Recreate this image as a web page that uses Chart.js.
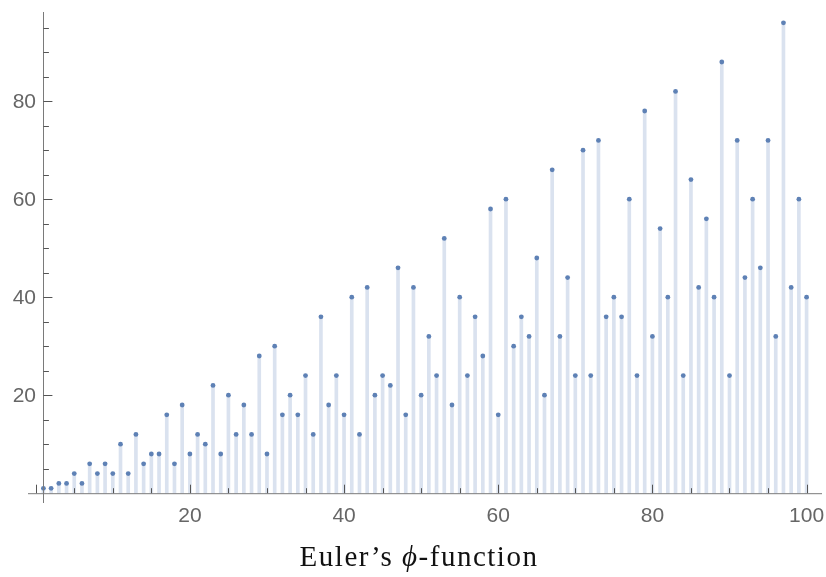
<!DOCTYPE html>
<html>
<head>
<meta charset="utf-8">
<script src="https://cdn.jsdelivr.net/npm/chart.js@4/dist/chart.umd.min.js"></script>
<style>
  body { margin: 0; background: #fff; }
</style>
</head>
<body>
<canvas id="graficoPhi" width="826" height="577"></canvas>
<script>
// n = 1..100 and phi(n)
var valoresN = [];
for (var i = 1; i <= 100; i++) valoresN.push(i);
var valoresPhi = [
  1, 1, 2, 2, 4, 2, 6, 4, 6, 4,
  10, 4, 12, 6, 8, 8, 16, 6, 18, 8,
  12, 10, 22, 8, 20, 12, 18, 12, 28, 8,
  30, 16, 20, 16, 24, 12, 36, 18, 24, 16,
  40, 12, 42, 20, 24, 22, 46, 16, 42, 20,
  32, 24, 52, 18, 40, 24, 36, 28, 58, 16,
  60, 30, 36, 32, 48, 20, 66, 32, 44, 24,
  70, 24, 72, 36, 40, 36, 60, 24, 78, 32,
  54, 40, 82, 24, 64, 42, 56, 40, 88, 24,
  72, 44, 60, 46, 72, 32, 96, 42, 60, 40
];
var ticksX = [20, 40, 60, 80, 100];
var ticksY = [20, 40, 60, 80];
var titulo = ["Euler\u2019s ", "\u03D5", "-function"];

var pontos = valoresN.map(function (n, i) {
  return { x: n, y: valoresPhi[i] };
});

// axes drawn Mathematica style: crossing at (1, 0), ticks pointing inward
var eixosPlugin = {
  id: "eixos",
  afterDraw: function (chart) {
    var ctx = chart.ctx;
    var sx = chart.scales.x;
    var sy = chart.scales.y;
    var area = chart.chartArea;
    var x0 = sx.getPixelForValue(1);
    var y0 = sy.getPixelForValue(0);

    ctx.save();
    ctx.strokeStyle = "#7a7a7a";
    ctx.lineWidth = 1;
    ctx.beginPath();
    ctx.moveTo(area.left, y0 + 0.5);
    ctx.lineTo(area.right, y0 + 0.5);
    ctx.moveTo(Math.round(x0) + 0.5, area.top);
    ctx.lineTo(Math.round(x0) + 0.5, area.bottom);
    ctx.stroke();

    ctx.strokeStyle = "#555";
    ctx.beginPath();
    for (var v = 0; v <= 100; v += 5) {
      var px = Math.round(sx.getPixelForValue(v)) + 0.5;
      var len = v % 20 === 0 ? 8.5 : 5;
      ctx.moveTo(px, y0);
      ctx.lineTo(px, y0 - len);
    }
    for (var w = 5; w <= 95; w += 5) {
      var py = Math.round(sy.getPixelForValue(w)) + 0.5;
      var lenY = w % 20 === 0 ? 9 : 5.5;
      ctx.moveTo(x0, py);
      ctx.lineTo(x0 + lenY, py);
    }
    ctx.stroke();

    ctx.fillStyle = "#666";
    ctx.font = "21px 'Liberation Sans', Arial, sans-serif";
    ctx.textAlign = "center";
    ctx.textBaseline = "middle";
    ticksX.forEach(function (t) {
      ctx.fillText(String(t), sx.getPixelForValue(t), 516);
    });
    ctx.textAlign = "right";
    ticksY.forEach(function (t) {
      ctx.fillText(String(t), 36, sy.getPixelForValue(t) + 1);
    });

    // title in serif with italic phi
    ctx.fillStyle = "#111";
    ctx.textAlign = "left";
    ctx.textBaseline = "alphabetic";
    ctx.letterSpacing = "1.5px";
    var fonteReta = "29px 'Liberation Serif', 'Times New Roman', serif";
    var fonteItalica = "italic 29px 'Liberation Serif', 'Times New Roman', serif";
    var fontes = [fonteReta, fonteItalica, fonteReta];
    var larguras = titulo.map(function (s, i) {
      ctx.font = fontes[i];
      return ctx.measureText(s).width;
    });
    var total = larguras.reduce(function (a, b) { return a + b; }, 0);
    var xt = 419 - total / 2;
    titulo.forEach(function (s, i) {
      ctx.font = fontes[i];
      ctx.fillText(s, xt, 566);
      xt += larguras[i];
    });
    ctx.restore();
  }
};

var ctx = document.getElementById("graficoPhi").getContext("2d");

var grafico = new Chart(ctx, {
  type: "bar",
  data: {
    datasets: [
      {
        type: "bar",
        label: "haste",
        data: pontos,
        backgroundColor: "#dae2ef",
        borderWidth: 0,
        barThickness: 3,
        order: 2
      },
      {
        type: "scatter",
        label: "phi",
        data: pontos,
        backgroundColor: "#5e81b5",
        borderWidth: 0,
        pointRadius: 2.4,
        order: 1
      }
    ]
  },
  options: {
    responsive: false,
    animation: false,
    layout: { padding: { left: 28, right: 4, top: 12, bottom: 74 } },
    plugins: {
      legend: { display: false },
      tooltip: { enabled: false }
    },
    scales: {
      x: { type: "linear", min: -1, max: 102, offset: false, display: false },
      y: { type: "linear", min: -2, max: 98.2, display: false }
    }
  },
  plugins: [eixosPlugin]
});
</script>
</body>
</html>
